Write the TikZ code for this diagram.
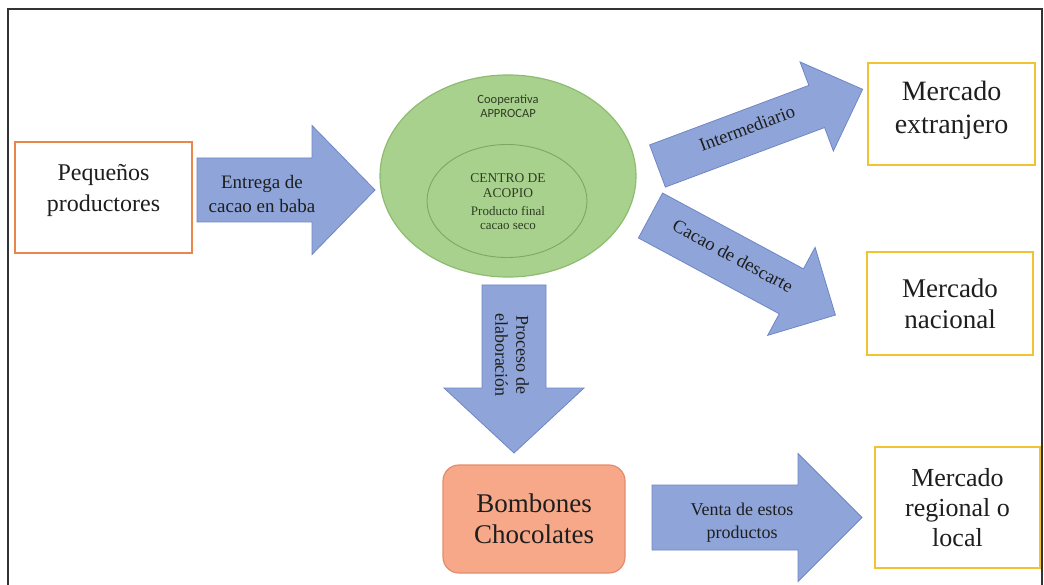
\documentclass[tikz,border=0pt]{standalone}
\usepackage{fontspec}
\setmainfont{Liberation Serif}
\newfontfamily\calib{Carlito}
\usetikzlibrary{shapes.geometric}
\definecolor{arrfill}{HTML}{8FA5D9}
\definecolor{arrdraw}{HTML}{6F86C6}
\definecolor{ellfill}{HTML}{A9D18E}
\definecolor{elldraw}{HTML}{8DBB70}
\definecolor{innerdraw}{HTML}{7DA860}
\definecolor{orangeb}{HTML}{E9874A}
\definecolor{goldb}{HTML}{F2C232}
\definecolor{salmon}{HTML}{F6A889}
\definecolor{salmondraw}{HTML}{E48C6C}
\definecolor{txt}{HTML}{1E1E1E}
\definecolor{greentxt}{HTML}{2F3D24}
\begin{document}
\begin{tikzpicture}[x=1pt,y=-1pt,
  box/.style={draw, line width=2pt, fill=white, text=txt, align=center, inner sep=2pt, font=\fontsize{27}{31}\selectfont},
  boxtext/.style={text=txt, align=center, inner sep=0pt},
  arrlabel/.style={text=txt, align=center, inner sep=0pt, font=\fontsize{18.5}{23}\selectfont},
  arrowshape/.style={fill=arrfill, draw=arrdraw, line width=0.8pt},
  pics/blockarrow/.style n args={4}{code={
    \path[arrowshape] (0,-#2) -- ({#1-#4},-#2) -- ({#1-#4},-#3) -- (#1,0) -- ({#1-#4},#3) -- ({#1-#4},#2) -- (0,#2) -- cycle;
  }}]
\useasboundingbox (0,0) rectangle (1044,585);
\fill[white] (0,0) rectangle (1044,585);
% frame
\draw[line width=2pt, draw=black!80] (8,585) -- (8,9) -- (1042,9) -- (1042,585);

% boxes
\node[box, draw=orangeb, minimum width=177pt, minimum height=111pt] (peq) at (103.5,197.5) {};
\node[boxtext, font=\fontsize{24}{31}\selectfont] (peqtxt) at (103.5,190) {Pequeños\\productores};
\node[box, draw=goldb, minimum width=167pt, minimum height=102pt] (ext) at (951.5,114) {};
\node[boxtext, font=\fontsize{28}{33}\selectfont] (exttxt) at (951.5,110) {Mercado\\extranjero};
\node[box, draw=goldb, minimum width=166pt, minimum height=103pt] (nac) at (950,303.5) {Mercado\\nacional};
\node[box, draw=goldb, minimum width=165pt, minimum height=121pt, font=\fontsize{26}{30}\selectfont] (reg) at (957.5,507.5) {Mercado\\regional o\\local};
\node[box, draw=salmondraw, fill=salmon, rounded corners=16pt, line width=1.2pt, minimum width=182pt, minimum height=108pt] (bom) at (534,519) {Bombones\\Chocolates};

% ellipses
\node[ellipse, fill=ellfill, draw=elldraw, line width=1.2pt, minimum width=256pt, minimum height=202pt] (coop) at (508,176) {};
\node[ellipse, fill=ellfill, draw=innerdraw, line width=0.9pt, minimum width=160pt, minimum height=113pt] (acop) at (507,201) {};
\node[text=greentxt, align=center, inner sep=0pt, font=\calib\fontsize{12.5}{14}\selectfont] (cooptxt) at (508,106) {Cooperativa\\APPROCAP};
\node[text=greentxt, align=center, inner sep=0pt, font=\fontsize{13.5}{15}\selectfont] (acoptxt) at (508,186) {CENTRO DE\\ACOPIO};
\node[text=greentxt, align=center, inner sep=0pt, font=\fontsize{13}{13.5}\selectfont] (prodtxt) at (508,218) {Producto final\\cacao seco};

% block arrows
\pic[shift={(197,190)}] {blockarrow={178}{32}{64.5}{63}};
\node[arrlabel, font=\fontsize{19}{24}\selectfont] (lab1) at (262,194) {Entrega de\\cacao en baba};

\pic[shift={(657.5,166)}, rotate=20.5] {blockarrow={219}{22.5}{47.5}{49}};
\node[arrlabel, rotate=20.5] (lab2) at (747,128) {Intermediario};

\pic[shift={(650.5,215.5)}, rotate=-28.3] {blockarrow={210}{25.5}{50}{50}};
\node[arrlabel, rotate=-28.3] (lab3) at (733,256) {Cacao de descarte};

\pic[shift={(514,285)}, rotate=-90] {blockarrow={168}{32}{70}{65}};
\node[arrlabel, rotate=-90, font=\fontsize{18}{21}\selectfont] (lab4) at (512,355) {Proceso de\\elaboración};

\pic[shift={(652,517.5)}] {blockarrow={210}{32.5}{64}{64}};
\node[arrlabel, font=\fontsize{18}{23}\selectfont] (lab5) at (742,523) {Venta de estos\\productos};
\end{tikzpicture}
\end{document}
